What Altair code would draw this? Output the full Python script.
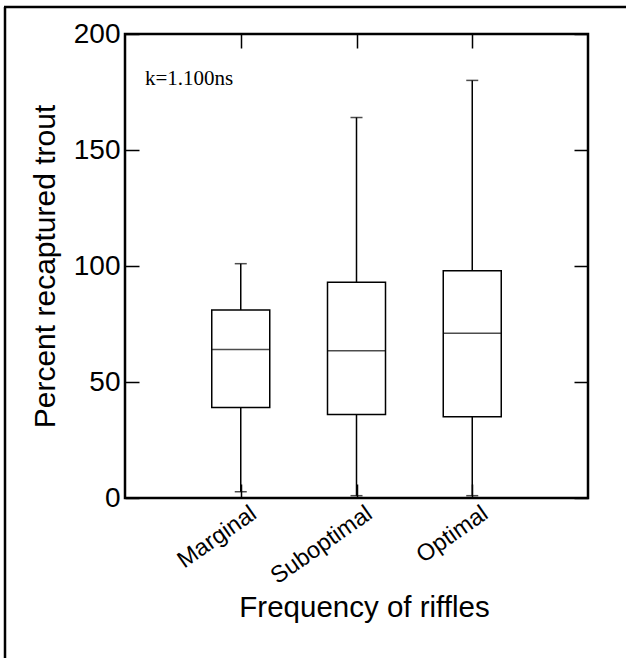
import altair as alt
import pandas as pd

categories = ["Marginal", "Suboptimal", "Optimal"]
whisker_low = [2.7, 1.0, 1.0]
q1 = [39.0, 36.0, 35.0]
median = [64.0, 63.5, 71.0]
q3 = [81.0, 93.0, 98.0]
whisker_high = [101.0, 164.0, 180.0]
y_ticks = [0, 50, 100, 150, 200]
annotation = "k=1.100ns"
annotation_y = 178

df = pd.DataFrame({
    "cat": categories, "lo": whisker_low, "q1": q1,
    "med": median, "q3": q3, "hi": whisker_high,
})

FONT = "Liberation Sans"
W, H = 463, 464

x_enc = alt.X(
    "cat:N",
    scale=alt.Scale(type="point", padding=1, domain=categories),
    sort=categories,
    axis=alt.Axis(
        title="Frequency of riffles", titleFontSize=29.5, titleFont=FONT,
        titleFontWeight="normal", titleColor="black", titlePadding=6,
        titleX=239, titleAlign="center", titleAnchor="start",
        labelAngle=325, labelFontSize=23.5, labelFont=FONT, labelColor="black",
        labelPadding=3, labelOffset=6,
        domain=False, ticks=False, grid=True, gridColor="black",
        gridOpacity=1, gridWidth=1.5, gridDash=[14, H - 28, 14, 1000],
    ),
)

y_scale = alt.Scale(domain=[0, 200], nice=False, zero=True)
y_axis = alt.Axis(
    values=y_ticks, title="Percent recaptured trout", titleFontSize=30,
    titleFont=FONT, titleFontWeight="normal", titleColor="black",
    titlePadding=13, labelFontSize=28, labelFont=FONT, labelColor="black",
    labelPadding=5, domain=False, ticks=False, grid=True, gridColor="black",
    gridOpacity=1, gridWidth=1.5, gridDash=[14, W - 28, 14, 1000],
)

base = alt.Chart(df).encode(x=x_enc)

whisker = base.mark_rule(color="black", strokeWidth=1.5).encode(
    y=alt.Y("lo:Q", scale=y_scale, axis=y_axis), y2="hi:Q"
)
box = base.mark_bar(size=58, fill="white", stroke="black", strokeWidth=1.5).encode(
    y=alt.Y("q1:Q", scale=y_scale), y2="q3:Q"
)
med = base.mark_tick(size=58, thickness=1.5, color="black").encode(
    y=alt.Y("med:Q", scale=y_scale)
)
cap_hi = base.mark_tick(size=12, thickness=1.5, color="black").encode(
    y=alt.Y("hi:Q", scale=y_scale)
)
cap_lo = base.mark_tick(size=12, thickness=1.5, color="black").encode(
    y=alt.Y("lo:Q", scale=y_scale)
)

ann_df = pd.DataFrame({"t": [annotation], "y": [annotation_y]})
ann = alt.Chart(ann_df).mark_text(
    align="left", baseline="alphabetic", fontSize=21,
    font="Liberation Serif", color="black"
).encode(x=alt.value(20), y=alt.Y("y:Q", scale=y_scale), text="t:N")

frame_left = alt.Chart(ann_df).mark_rule(color="black", strokeWidth=2.5).encode(
    x=alt.value(-120), y=alt.value(-27), y2=alt.value(700)
)
frame_top = alt.Chart(ann_df).mark_rule(color="black", strokeWidth=2.5).encode(
    x=alt.value(-121), x2=alt.value(700), y=alt.value(-27)
)

chart = alt.layer(
    whisker, box, med, cap_hi, cap_lo, ann, frame_left, frame_top
).properties(
    width=W, height=H,
    autosize=alt.AutoSizeParams(type="none"),
    padding={"left": 125, "top": 34, "right": 38, "bottom": 160},
    background="white",
).configure_view(stroke="black", strokeWidth=2.5)

chart.save("out.html", embed_options={"renderer": "svg", "actions": False})
